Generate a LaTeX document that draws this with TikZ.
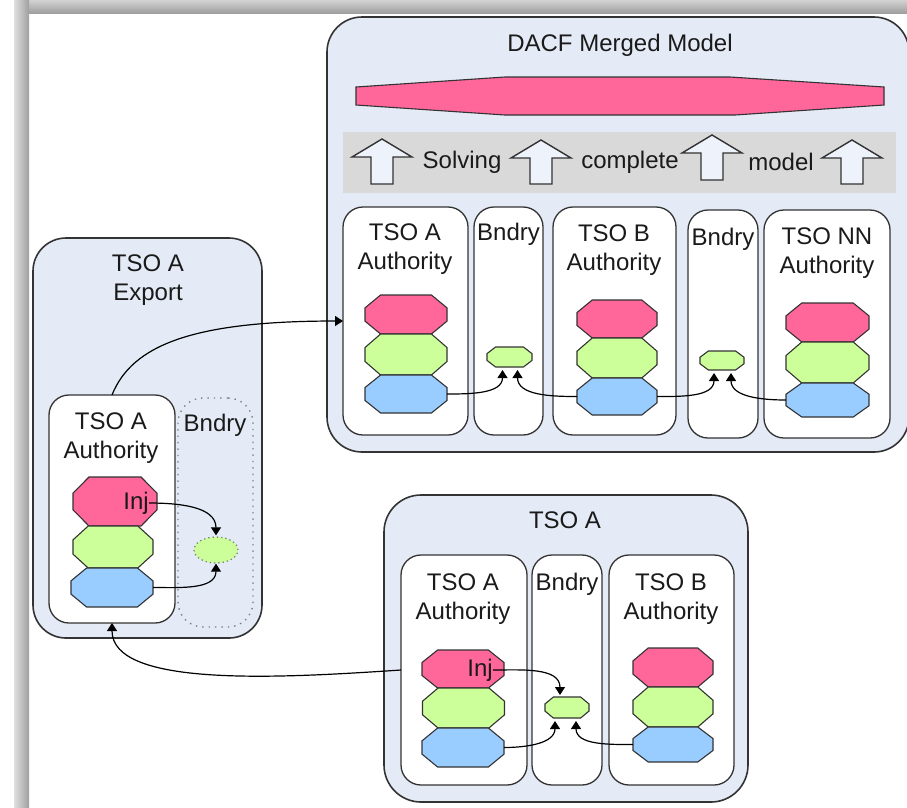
\documentclass[tikz,border=0pt]{standalone}
\usepackage{fontspec}
\setmainfont{Liberation Sans}
\usetikzlibrary{arrows.meta,fit,calc,shapes.geometric}
\definecolor{bgblue}{HTML}{E4EBF6}
\definecolor{pinkf}{HTML}{FF6699}
\definecolor{greenf}{HTML}{CCFF99}
\definecolor{bluef}{HTML}{99CCFF}
\definecolor{bandgray}{HTML}{D9D9D9}
\definecolor{edge}{HTML}{333333}
\definecolor{arrowfill}{HTML}{EEF2FA}
\definecolor{txt}{HTML}{1A1A1A}
\tikzset{
  outerbox/.style={draw=edge, line width=1.6pt, fill=bgblue, rounded corners=35pt, inner sep=0pt, outer sep=0pt},
  innerbox/.style={draw=edge, line width=1.3pt, fill=white, rounded corners=20pt, inner sep=0pt, outer sep=0pt},
  dotbox/.style={draw=gray, line width=1.4pt, dash pattern=on 1.4pt off 5pt, rounded corners=25pt, inner sep=0pt, outer sep=0pt},
  lbl/.style={font=\fontsize{24}{29}\selectfont, text=txt, align=center, inner sep=0pt},
  octline/.style={draw=edge, line width=1.1pt},
  arrline/.style={draw=edge, line width=1.4pt, fill=arrowfill},
  conn/.style={draw=black, line width=1.2pt, -{Triangle[width=10pt,length=8pt]}}
}
\newcommand\octnode[6]{%
  \node[inner sep=0pt, outer sep=0pt, minimum width=#4pt, minimum height=#5pt] (#1) at (#2,#3) {};
  \draw[octline, fill=#6]
    ([xshift={0.19*#4}]#1.north west) -- ([xshift={-0.19*#4}]#1.north east)
    -- ([yshift={-0.33*#5}]#1.north east) -- ([yshift={0.33*#5}]#1.south east)
    -- ([xshift={-0.19*#4}]#1.south east) -- ([xshift={0.19*#4}]#1.south west)
    -- ([yshift={0.33*#5}]#1.south west) -- ([yshift={-0.33*#5}]#1.north west) -- cycle;
}
\newcommand\uparrowbox[3]{%
  \draw[arrline] (#1,#2) -- ({#1+30},{#2+18}) -- ({#1+11},{#2+18}) -- ({#1+11},#3)
    -- ({#1-11},#3) -- ({#1-11},{#2+18}) -- ({#1-30},{#2+18}) -- cycle;
}
\begin{document}
\begin{tikzpicture}[x=1pt,y=-1pt]
\useasboundingbox (0,0) rectangle (907,807);
\fill[white] (0,0) rectangle (907,807);
\shade[top color=gray!35, bottom color=gray!75] (17,0) rectangle (907,13);
\shade[left color=gray!25, right color=gray!75] (14,0) rectangle (29,807);

% ---------- DACF merged model ----------
\node[outerbox, fit={(327,17) (909,452)}] (dacf) {};
\node[lbl] (dacfT) at (620,45) {DACF Merged Model};
\draw[octline, fill=pinkf] (356,87) -- (505,77) -- (730,77) -- (884,87) -- (884,105)
  -- (735,115) -- (505,115) -- (356,105) -- cycle;
\fill[bandgray] (343,132) rectangle (896,193);
\uparrowbox{382}{139}{184}
\uparrowbox{541}{140}{184}
\uparrowbox{712}{135}{180}
\uparrowbox{852}{140}{184}
\node[lbl] (solv) at (462,162) {Solving};
\node[lbl] (compl) at (630,162) {complete};
\node[lbl] (mdl) at (781,162) {model};

\node[innerbox, fit={(343,207) (468,435)}] (dA) {};
\node[lbl] (dAt) at (405,249) {TSO A\\Authority};
\node[innerbox, fit={(474,207) (543,435)}] (dBn1) {};
\node[lbl] (dBn1t) at (508.5,234) {Bndry};
\node[innerbox, fit={(553,207) (676,435)}] (dB) {};
\node[lbl] (dBt) at (614,250) {TSO B\\Authority};
\node[innerbox, fit={(688,210) (758,438)}] (dBn2) {};
\node[lbl] (dBn2t) at (723,239) {Bndry};
\node[innerbox, fit={(764,210) (890,438)}] (dNN) {};
\node[lbl] (dNNt) at (827,253.5) {TSO NN\\Authority};

\octnode{aP}{406}{314.5}{82}{39}{pinkf}
\octnode{aG}{406}{354.5}{82}{41}{greenf}
\octnode{aBl}{406}{394}{82}{38}{bluef}
\octnode{bP}{617}{319}{80}{38}{pinkf}
\octnode{bG}{617}{358}{80}{40}{greenf}
\octnode{bBl}{617}{396.5}{80}{37}{bluef}
\octnode{nP}{827.5}{322.5}{83}{39}{pinkf}
\octnode{nG}{827.5}{362.5}{83}{41}{greenf}
\octnode{nBl}{827.5}{400}{83}{34}{bluef}
\octnode{s1}{509.5}{357}{45}{20}{greenf}
\octnode{s2}{722}{360.5}{44}{19}{greenf}

\draw[conn] (aBl.east) to[out=0,in=-90] ([xshift=-7pt,yshift=-3pt]s1.south);
\draw[conn] (bBl.west) to[out=180,in=-90] ([xshift=8pt,yshift=-3pt]s1.south);
\draw[conn] (bBl.east) to[out=0,in=-90] ([xshift=-8pt,yshift=-3pt]s2.south);
\draw[conn] (nBl.west) to[out=180,in=-90] ([xshift=9pt,yshift=-3pt]s2.south);

% ---------- TSO A Export ----------
\node[outerbox, rounded corners=33pt, fit={(33,238) (262,638)}] (exp) {};
\node[lbl] (expt) at (148,280.5) {TSO A\\Export};
\node[innerbox, fit={(49,395) (175,623)}] (eA) {};
\node[lbl] (eAt) at (111,438.5) {TSO A\\Authority};
\node[dotbox, fit={(178,398) (253,627)}] (eBn) {};
\node[lbl] (eBnt) at (215,425) {Bndry};
\octnode{eP}{115}{501.5}{84}{49}{pinkf}
\octnode{eG}{113}{547}{80}{42}{greenf}
\octnode{eBl}{112}{587.5}{82}{39}{bluef}
\node[lbl, anchor=east] (eInj) at (149,503) {Inj};
\node[ellipse, draw=gray, line width=1.3pt, dash pattern=on 1.3pt off 3pt, fill=greenf,
  minimum width=44pt, minimum height=26pt, inner sep=0pt] (eEl) at (216,550) {};
\draw[conn] (eInj.east) to[out=0,in=90] ([yshift=1pt]eEl.north);
\draw[conn] (eBl.east) to[out=0,in=-90] (eEl.south);

% ---------- TSO A ----------
\node[outerbox, rounded corners=37pt, fit={(384,495) (748,802)}] (tso) {};
\node[lbl] (tsot) at (565,520) {TSO A};
\node[innerbox, fit={(401,555) (527,785)}] (tA) {};
\node[lbl] (tAt) at (463,599.5) {TSO A\\Authority};
\node[innerbox, fit={(532,555) (602,785)}] (tBn) {};
\node[lbl] (tBnt) at (567,584) {Bndry};
\node[innerbox, fit={(609,555) (734,785)}] (tB) {};
\node[lbl] (tBt) at (671,599.5) {TSO B\\Authority};
\octnode{tAP}{463}{669}{82}{38}{pinkf}
\octnode{tAG}{463.5}{708}{82}{40}{greenf}
\octnode{tABl}{463}{747.5}{82}{39}{bluef}
\octnode{tBP}{673}{667.5}{80}{39}{pinkf}
\octnode{tBG}{673}{707}{80}{40}{greenf}
\octnode{tBBl}{673}{744.5}{80}{35}{bluef}
\octnode{s3}{567}{707.5}{44}{21}{greenf}
\node[lbl, anchor=east] (tInj) at (493,670) {Inj};
\draw[conn] (tInj.east) to[out=0,in=90] ([xshift=-7pt,yshift=2pt]s3.north);
\draw[conn] (tABl.east) to[out=0,in=-90] ([xshift=-12pt,yshift=-3pt]s3.south);
\draw[conn] (tBBl.west) to[out=180,in=-90] ([xshift=9pt,yshift=-3pt]s3.south);

% ---------- long connectors ----------
\draw[conn] (eA.north) .. controls +(20,-50) and +(-150,0) .. (dA.west);
\draw[conn] (tA.west) .. controls +(-120,8) and +(0,65) .. (eA.south);
\end{tikzpicture}
\end{document}
